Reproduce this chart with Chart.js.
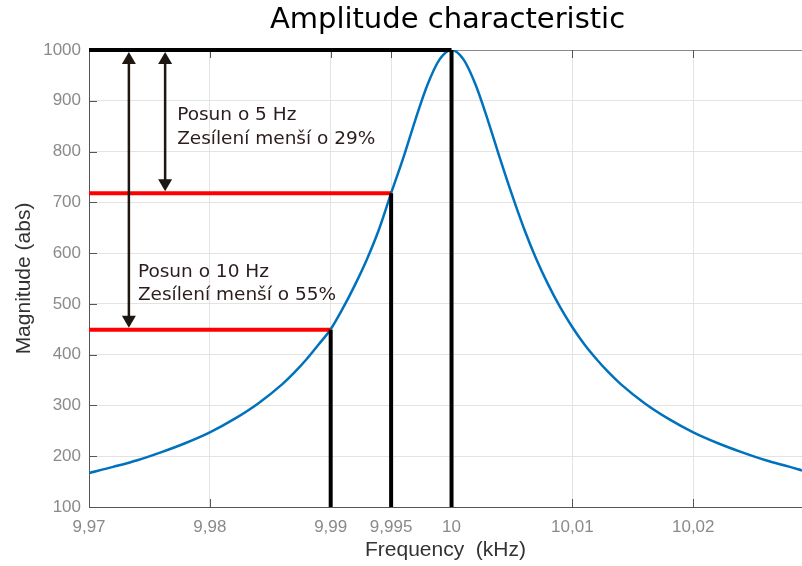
<!DOCTYPE html>
<html>
<head>
<meta charset="utf-8">
<script src="https://cdn.jsdelivr.net/npm/chart.js@4/dist/chart.umd.min.js"></script>
<style>
  body { margin: 0; background: #fff; }
  #wrap { width: 802px; height: 566px; }
</style>
</head>
<body>
<div id="wrap"><canvas id="chart"></canvas></div>
<script>
// frequency (kHz) and magnitude
const freq = [9.970, 9.972, 9.974, 9.976, 9.978, 9.980, 9.982, 9.984, 9.986, 9.987,
              9.988, 9.989, 9.990, 9.991, 9.992, 9.993, 9.994, 9.995, 9.996, 9.997,
              9.998, 9.999, 10.000, 10.001, 10.002, 10.003, 10.004, 10.005, 10.006, 10.007,
              10.008, 10.009, 10.010, 10.011, 10.012, 10.013, 10.014, 10.016, 10.018, 10.020,
              10.022, 10.024, 10.026, 10.028, 10.029];
const magnitude = [167, 179, 192, 208, 226, 247, 273, 304, 342, 365,
                   391, 420, 450, 491, 537, 588, 647, 718, 787, 862,
                   931, 981, 1000, 981, 931, 862, 787, 715, 648, 589,
                   538, 493, 454, 420, 391, 365, 342, 304, 273, 247,
                   226, 208, 192, 179, 172];

const xTickValues = [9.97, 9.98, 9.99, 9.995, 10, 10.01, 10.02];
const xTickLabels = ['9,97', '9,98', '9,99', '9,995', '10', '10,01', '10,02'];
const yTickValues = [100, 200, 300, 400, 500, 600, 700, 800, 900, 1000];

// marked frequencies and the magnitude at each one
const markFreqs = [9.99, 9.995, 10];
const markLevels = [449, 718, 1000];
// arrows from the peak down to a level
const arrowFreqs = [9.9733, 9.9763];
const arrowLevels = [449, 718];
const noteLines = [
  ['Posun o 10 Hz', 'Zesílení menší o 55%'],
  ['Posun o 5 Hz', 'Zesílení menší o 29%']
];

const xMin = 9.97, xMax = 10.029;

function seg(a, b, color) {
  return {
    data: [a, b], borderColor: color, borderWidth: 4, pointRadius: 0,
    clip: false, tension: 0, borderCapStyle: 'butt'
  };
}

const datasets = [];
// black verticals from the axis to the curve
markFreqs.forEach((f, i) => {
  datasets.push(seg({x: f, y: 100}, {x: f, y: markLevels[i]}, '#000'));
});
// black line at the peak
datasets.push(seg({x: xMin, y: 1000}, {x: 10, y: 1000}, '#000'));
// red lines at the reduced levels
datasets.push(seg({x: xMin, y: markLevels[0]}, {x: markFreqs[0], y: markLevels[0]}, '#ff0000'));
datasets.push(seg({x: xMin, y: markLevels[1]}, {x: markFreqs[1], y: markLevels[1]}, '#ff0000'));
// the curve
datasets.push({
  data: freq.map((f, i) => ({x: f, y: magnitude[i]})),
  borderColor: '#0072BD', borderWidth: 2.5, pointRadius: 0,
  cubicInterpolationMode: 'monotone'
});

const extras = {
  id: 'extras',
  beforeDatasetsDraw(chart) {
    const {ctx, chartArea: a, scales: {x, y}} = chart;
    ctx.save();
    // top frame line
    ctx.strokeStyle = '#8a8a8a';
    ctx.lineWidth = 1;
    ctx.beginPath();
    ctx.moveTo(a.left, a.top + 0.5);
    ctx.lineTo(a.right, a.top + 0.5);
    ctx.stroke();
    // inward tick marks
    ctx.strokeStyle = '#555';
    ctx.beginPath();
    xTickValues.forEach(v => {
      const px = Math.round(x.getPixelForValue(v)) + 0.5;
      ctx.moveTo(px, a.bottom); ctx.lineTo(px, a.bottom - 8);
      ctx.moveTo(px, a.top); ctx.lineTo(px, a.top + 8);
    });
    yTickValues.forEach(v => {
      const py = Math.round(y.getPixelForValue(v)) + 0.5;
      ctx.moveTo(a.left, py); ctx.lineTo(a.left + 8, py);
    });
    ctx.stroke();
    ctx.restore();
  },
  afterDatasetsDraw(chart) {
    const {ctx, chartArea: a, scales: {x, y}} = chart;
    ctx.save();
    // arrows
    ctx.strokeStyle = '#1e1610';
    ctx.fillStyle = '#1e1610';
    ctx.lineWidth = 2.5;
    arrowFreqs.forEach((f, i) => {
      const px = x.getPixelForValue(f);
      const top = y.getPixelForValue(1000) + 2;
      const bot = y.getPixelForValue(arrowLevels[i]) - 2;
      ctx.beginPath();
      ctx.moveTo(px, top + 8); ctx.lineTo(px, bot - 8);
      ctx.stroke();
      ctx.beginPath();
      ctx.moveTo(px, top); ctx.lineTo(px - 7, top + 12); ctx.lineTo(px + 7, top + 12);
      ctx.closePath(); ctx.fill();
      ctx.beginPath();
      ctx.moveTo(px, bot); ctx.lineTo(px - 7, bot - 12); ctx.lineTo(px + 7, bot - 12);
      ctx.closePath(); ctx.fill();
    });
    // notes
    ctx.fillStyle = '#2b1d1d';
    ctx.font = '18.5px "DejaVu Sans"';
    ctx.textAlign = 'left';
    ctx.textBaseline = 'alphabetic';
    const n0x = x.getPixelForValue(arrowFreqs[0]) + 9;
    const n0y = y.getPixelForValue(arrowLevels[0]) - 53;
    ctx.fillText(noteLines[0][0], n0x, n0y);
    ctx.fillText(noteLines[0][1], n0x, n0y + 23.5);
    const n1x = x.getPixelForValue(arrowFreqs[1]) + 12;
    const n1y = y.getPixelForValue(1000) + 70;
    ctx.fillText(noteLines[1][0], n1x, n1y);
    ctx.fillText(noteLines[1][1], n1x, n1y + 23.5);
    // title
    ctx.fillStyle = '#000';
    ctx.font = '29px "DejaVu Sans"';
    ctx.textAlign = 'center';
    ctx.fillText('Amplitude characteristic', (a.left + a.right) / 2 + 2, 28);
    ctx.restore();
  }
};

new Chart(document.getElementById('chart'), {
  type: 'line',
  data: { datasets: datasets },
  options: {
    responsive: true,
    maintainAspectRatio: false,
    animation: false,
    layout: { padding: { top: 50, right: 0, left: 0, bottom: 0 } },
    plugins: { legend: { display: false }, tooltip: { enabled: false } },
    scales: {
      x: {
        type: 'linear', min: xMin, max: xMax,
        afterBuildTicks(s) { s.ticks = xTickValues.map(v => ({value: v})); },
        afterFit(s) { s.height = 59; },
        ticks: {
          autoSkip: false, maxRotation: 0, padding: 10,
          color: '#8a8a8a', font: { family: '"Liberation Sans"', size: 17 },
          callback: (v, i) => xTickLabels[i]
        },
        grid: { color: '#e3e3e3', drawTicks: false },
        border: { color: '#555', width: 1 },
        title: {
          display: true, text: 'Frequency  (kHz)', color: '#333',
          font: { family: '"Liberation Sans"', size: 21 }, padding: { top: 0, bottom: 3 }
        }
      },
      y: {
        min: 100, max: 1000,
        afterBuildTicks(s) { s.ticks = yTickValues.map(v => ({value: v})); },
        afterFit(s) { s.width = 89; },
        ticks: {
          padding: 8, color: '#8a8a8a',
          font: { family: '"Liberation Sans"', size: 17 },
          callback: v => String(v)
        },
        grid: { color: '#e3e3e3', drawTicks: false },
        border: { color: '#555', width: 1 },
        title: {
          display: true, text: 'Magnitude (abs)', color: '#333',
          font: { family: '"Liberation Sans"', size: 21 }, padding: { top: 12, bottom: 0 }
        }
      }
    }
  },
  plugins: [extras]
});
</script>
</body>
</html>
